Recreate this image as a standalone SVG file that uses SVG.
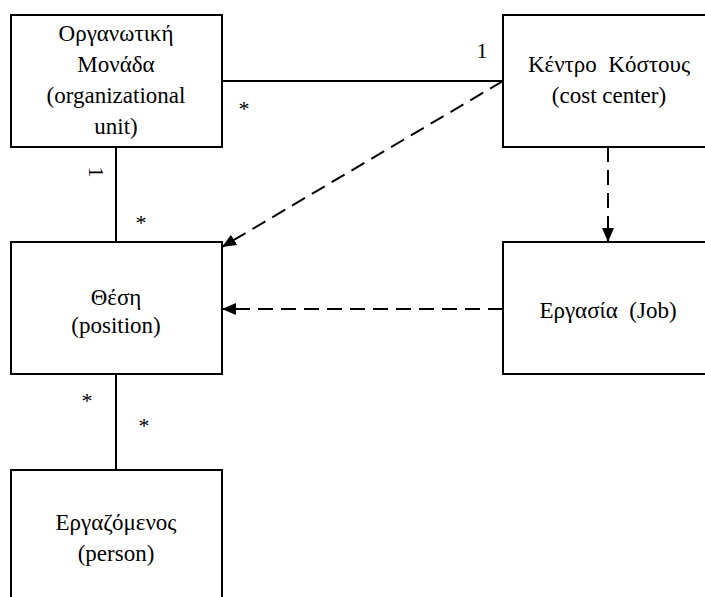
<svg xmlns="http://www.w3.org/2000/svg" width="705" height="597" viewBox="0 0 705 597">
<defs>
<style>
.box{fill:#fff;stroke:#000;stroke-width:2}
.t{font-size:23px;text-anchor:middle;fill:#000}
.m{font-size:22px;text-anchor:middle;fill:#000}
.ln{stroke:#000;stroke-width:2;fill:none}
.dash{stroke:#000;stroke-width:2;fill:none;stroke-dasharray:15 8}
</style>
<marker id="arr" viewBox="0 0 14 12" refX="14" refY="6" markerWidth="14" markerHeight="12" markerUnits="userSpaceOnUse" orient="auto">
<path d="M0,0 L14,6 L0,12 Z" fill="#000"/>
</marker>
</defs>
<rect width="705" height="597" fill="#fff"/>
<g font-family="Liberation Serif, Times New Roman, serif">
<g id="connectors">
<line class="ln" x1="222" y1="81" x2="503" y2="81"/>
<line class="ln" x1="116" y1="147" x2="116" y2="242"/>
<line class="ln" x1="116" y1="374" x2="116" y2="470"/>
<line class="dash" x1="503" y1="81" x2="222" y2="247" marker-end="url(#arr)"/>
<line class="dash" x1="608" y1="147" x2="608" y2="242" marker-end="url(#arr)"/>
<line class="dash" x1="503" y1="309" x2="222" y2="309" marker-end="url(#arr)"/>
<text class="m" x="482" y="58">1</text>
<text class="m" x="244" y="116">*</text>
<text class="m" transform="translate(89,172) rotate(90)">1</text>
<text class="m" x="141" y="230">*</text>
<text class="m" x="87" y="408">*</text>
<text class="m" x="144" y="433">*</text>
</g>
<g id="org-unit">
<rect class="box" x="11" y="15" width="211" height="132"/>
<text class="t" x="116" y="41">Οργανωτική</text>
<text class="t" x="116" y="72">Μονάδα</text>
<text class="t" x="116" y="103">(organizational</text>
<text class="t" x="116" y="134">unit)</text>
</g>
<g id="cost-center">
<rect class="box" x="503" y="15" width="203" height="132"/>
<text class="t" x="609" y="72" xml:space="preserve">Κέντρο  Κόστους</text>
<text class="t" x="609" y="103">(cost center)</text>
</g>
<g id="position">
<rect class="box" x="11" y="242" width="211" height="132"/>
<text class="t" x="116" y="305">Θέση</text>
<text class="t" x="116" y="333">(position)</text>
</g>
<g id="job">
<rect class="box" x="503" y="242" width="203" height="132"/>
<text class="t" x="608" y="318" xml:space="preserve">Εργασία  (Job)</text>
</g>
<g id="person">
<rect class="box" x="11" y="470" width="211" height="140"/>
<text class="t" x="116" y="530">Εργαζόμενος</text>
<text class="t" x="116" y="561">(person)</text>
</g>
</g>
</svg>
